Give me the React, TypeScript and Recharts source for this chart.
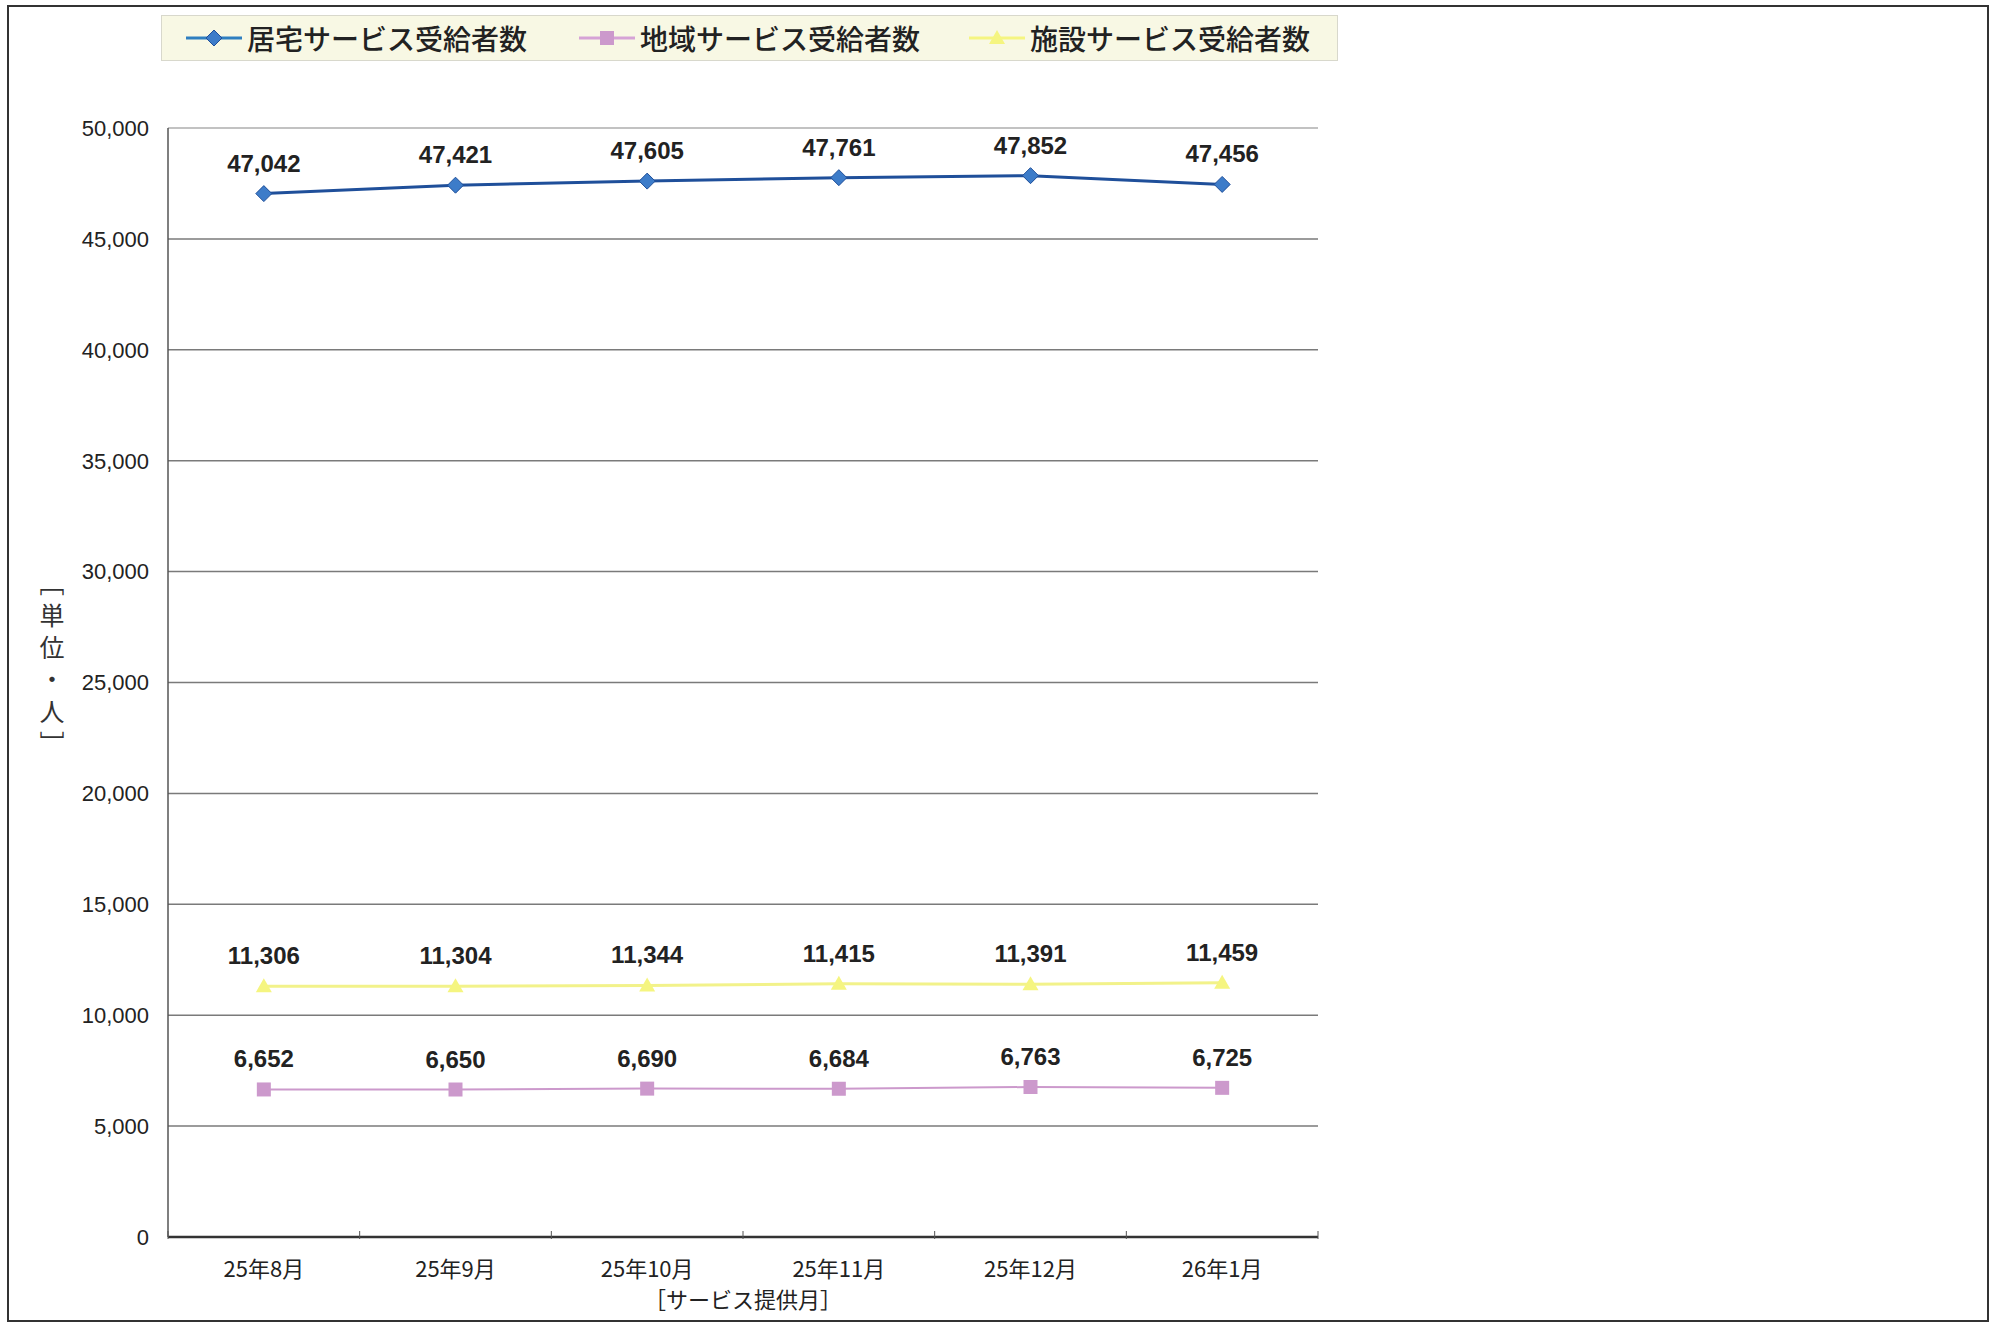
import React from 'react';
import { LineChart, Line, XAxis, YAxis, CartesianGrid, LabelList, ReferenceLine, Label } from 'recharts';

// service months
const months = ['25年8月', '25年9月', '25年10月', '25年11月', '25年12月', '26年1月'];

// recipients per service type
const homeService = [47042, 47421, 47605, 47761, 47852, 47456];
const communityService = [6652, 6650, 6690, 6684, 6763, 6725];
const facilityService = [11306, 11304, 11344, 11415, 11391, 11459];

const yTicks = [0, 5000, 10000, 15000, 20000, 25000, 30000, 35000, 40000, 45000, 50000];

const SERIES = [
    { key: 'home', name: '居宅サービス受給者数', line: '#1f4f9a', fill: '#3d7cc9', icon: '#2f7fc0', shape: 'diamond', legendX: 24 },
    { key: 'community', name: '地域サービス受給者数', line: '#cc99cc', fill: '#cc99cc', icon: '#d6a3d6', shape: 'square', legendX: 417 },
    { key: 'facility', name: '施設サービス受給者数', line: '#f2f28a', fill: '#f5f580', icon: '#f5f580', shape: 'triangle', legendX: 807 },
];

const data = months.map((m, i) => ({
    month: m,
    home: homeService[i],
    community: communityService[i],
    facility: facilityService[i],
}));

const PLOT_LEFT = 168;
const PLOT_WIDTH = 1150;
const STEP = PLOT_WIDTH / months.length;

const LATIN = '"Liberation Sans", Arial, sans-serif';
const CJK = '"Noto Sans CJK JP", "Liberation Sans", sans-serif';

const Marker = ({ cx, cy, shape, fill, stroke }: any) => {
    if (cx == null || cy == null) return null;
    if (shape === 'diamond') {
        const r = 8;
        return <polygon points={`${cx},${cy - r} ${cx + r},${cy} ${cx},${cy + r} ${cx - r},${cy}`} fill={fill} stroke={stroke} strokeWidth={1} />;
    }
    if (shape === 'square') {
        return <rect x={cx - 7} y={cy - 7} width={14} height={14} fill={fill} />;
    }
    return <polygon points={`${cx},${cy - 8} ${cx + 8},${cy + 6} ${cx - 8},${cy + 6}`} fill={fill} />;
};

const XTick = ({ x, y, payload, index }: any) => {
    const base = y;
    return (
        <g>
            <line x1={x - STEP / 2} x2={x - STEP / 2} y1={base} y2={base - 8} stroke="#555" strokeWidth={1} />
            {index === months.length - 1 && (
                <line x1={x + STEP / 2} x2={x + STEP / 2} y1={base} y2={base - 8} stroke="#555" strokeWidth={1} />
            )}
            <text x={x} y={base + 38} textAnchor="middle" fontSize={22} fontFamily={CJK} fill="#222">
                {payload.value}
            </text>
        </g>
    );
};

const LegendBox = () => (
    <div
        style={{
            position: 'absolute', left: 161, top: 15, width: 1177, height: 46,
            background: '#f8f8e4', border: '1px solid #d8d8cc', boxSizing: 'border-box',
        }}
    >
        {SERIES.map((s) => (
            <div key={s.key} style={{ position: 'absolute', left: s.legendX, top: 0, height: 44, display: 'flex', alignItems: 'center' }}>
                <svg width={56} height={20}>
                    <line x1={0} x2={56} y1={10} y2={10} stroke={s.icon} strokeWidth={3} />
                    <Marker cx={28} cy={10} shape={s.shape} fill={s.fill} stroke={s.line} />
                </svg>
                <span style={{ fontFamily: CJK, fontSize: 28, fontWeight: 500, color: '#222', marginLeft: 5, lineHeight: 1, whiteSpace: 'nowrap' }}>{s.name}</span>
            </div>
        ))}
    </div>
);

export default function App() {
    return (
        <div style={{ position: 'relative', width: 1992, height: 1325, background: '#fff', overflow: 'hidden' }}>
            <style>{'body{margin:0}'}</style>
            <div style={{ position: 'absolute', left: 7, top: 5, width: 1982, height: 1317, border: '2px solid #333', boxSizing: 'border-box' }} />
            <LegendBox />
            <div style={{ position: 'absolute', left: 0, top: 0 }}>
                <LineChart width={1340} height={1325} data={data} margin={{ top: 128, right: 22, bottom: 28, left: PLOT_LEFT - 100 }}>
                    <CartesianGrid horizontal vertical={false} stroke="#7a7a7a" strokeWidth={1.5} />
                    <ReferenceLine y={50000} stroke="#cfcfcf" strokeWidth={1.5} />
                    <XAxis
                        dataKey="month"
                        height={60}
                        padding={{ left: STEP / 2, right: STEP / 2 }}
                        axisLine={{ stroke: '#333', strokeWidth: 2.5 }}
                        tickLine={false}
                        tickSize={0}
                        interval={0}
                        tick={<XTick />}
                    >
                        <Label
                            content={({ viewBox }: any) => (
                                <text x={viewBox.x + viewBox.width / 2} y={viewBox.y + viewBox.height + 11} textAnchor="middle" fontSize={22} fontFamily={CJK} fill="#222">
                                    ［サービス提供月］
                                </text>
                            )}
                        />
                    </XAxis>
                    <YAxis
                        width={100}
                        domain={[0, 50000]}
                        ticks={yTicks}
                        interval={0}
                        axisLine={{ stroke: '#555', strokeWidth: 1.5 }}
                        tickLine={false}
                        tickSize={0}
                        tickMargin={19}
                        tickFormatter={(v: number) => v.toLocaleString('en-US')}
                        tick={{ fontSize: 22, fontFamily: LATIN, fill: '#222' }}
                    >
                        <Label
                            content={() => (
                                <text x={52} y={667} textAnchor="middle" fontSize={25} fontFamily={CJK} fill="#333" style={{ writingMode: 'vertical-rl', letterSpacing: 7 }}>
                                    ［単位・人］
                                </text>
                            )}
                        />
                    </YAxis>
                    <YAxis yAxisId="frame" orientation="right" width={0} domain={[0, 50000]} tick={false} tickLine={false} axisLine={{ stroke: '#c8c8c8', strokeWidth: 1.5 }} />
                    {SERIES.map((s) => (
                        <Line
                            key={s.key}
                            dataKey={s.key}
                            name={s.name}
                            stroke={s.line}
                            strokeWidth={s.key === 'community' ? 2 : 3}
                            isAnimationActive={false}
                            dot={(p: any) => <Marker key={`${s.key}-${p.index}`} cx={p.cx} cy={p.cy} shape={s.shape} fill={s.fill} stroke={s.line} />}
                            activeDot={false}
                        >
                            <LabelList
                                dataKey={s.key}
                                position="top"
                                offset={22}
                                formatter={(v: any) => Number(v).toLocaleString('en-US')}
                                style={{ fontSize: 24, fontWeight: 'bold', fontFamily: LATIN, fill: '#222' }}
                            />
                        </Line>
                    ))}
                </LineChart>
            </div>
        </div>
    );
}
